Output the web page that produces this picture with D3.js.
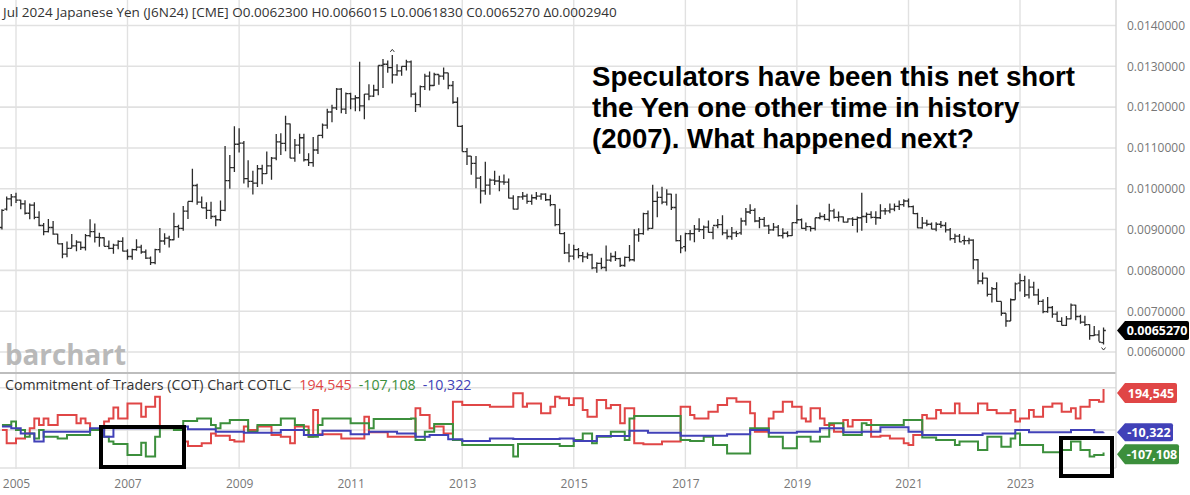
<!DOCTYPE html>
<html><head><meta charset="utf-8">
<script src="https://cdn.jsdelivr.net/npm/d3@7/dist/d3.min.js"></script>
<style>body{margin:0;background:#fff}svg{display:block}</style>
</head><body>
<svg id="c" width="1190" height="495"></svg>
<script>
// ---- DATA ----
// monthly bars from Oct 2004 to Jul 2024; prices in units of 0.00001 USD per JPY
const firstMonth = [2004, 9];   // Oct 2004 (JS month index)
const priceOpen = [
 905,950,975,
 980,972,963,940,960,930,910,895,905,889,865,840,
 854,860,869,856,885,895,881,880,859,854,862,871,
 847,834,851,857,845,830,819,851,872,879,875,907,
 903,945,969,1008,967,953,947,932,924,947,1020,1052,
 1109,1112,1025,1018,1014,1049,1037,1056,1075,1115,1111,1159,
 1075,1107,1125,1071,1064,1095,1131,1156,1188,1198,1244,1195,
 1233,1220,1223,1203,1232,1227,1242,1302,1305,1297,1279,1289,
 1300,1311,1232,1206,1250,1276,1253,1280,1276,1284,1253,1212,
 1153,1091,1080,1062,1026,995,1009,1021,1019,1017,1016,977,
 950,980,982,969,978,982,987,973,961,912,890,843,
 835,851,836,833,838,806,817,807,825,834,829,812,
 832,826,887,890,939,903,969,979,967,987,954,873,
 858,890,890,901,900,906,893,910,912,892,883,892,
 892,921,943,947,921,925,909,899,906,885,891,885,
 917,924,903,907,903,929,932,925,946,930,931,918,
 926,925,929,932,937,930,929,946,946,950,957,961,
 970,956,939,904,916,913,901,913,910,899,878,884,
 873,873,874,826,774,781,741,755,724,695,676,728,
 769,775,740,759,740,724,699,709,693,675,665,681,
 715,687,673,667,640,642,623
];
const priceHigh = [
 950,981,987,
 990,973,972,964,967,945,916,926,921,890,867,871,
 889,874,871,889,925,915,892,881,873,865,874,881,
 852,853,876,863,851,834,853,904,891,885,941,912,
 958,969,1049,1012,981,967,968,935,971,1105,1083,1153,
 1148,1117,1070,1044,1058,1059,1091,1078,1134,1136,1179,1160,
 1122,1135,1135,1087,1127,1131,1160,1196,1206,1247,1247,1236,
 1235,1229,1311,1232,1256,1255,1302,1318,1314,1328,1305,1300,
 1316,1314,1236,1253,1282,1287,1284,1280,1297,1284,1264,1224,
 1156,1100,1080,1080,1031,1066,1025,1044,1032,1035,1025,984,
 982,992,988,986,992,989,989,985,962,951,894,865,
 863,855,845,844,841,820,831,861,843,847,831,834,
 862,901,903,941,947,1010,993,1005,999,988,988,886,
 892,899,911,928,910,922,907,926,935,900,906,897,
 929,953,962,952,931,931,912,916,911,903,896,917,
 961,927,917,908,929,942,938,963,951,944,932,928,
 930,932,990,942,945,945,962,953,964,964,971,974,
 976,959,941,931,924,917,918,921,918,904,890,889,
 885,880,876,828,795,782,759,771,724,695,731,770,
 792,787,778,772,755,729,735,713,699,685,688,719,
 716,691,689,668,664,653,660.15
];
const priceLow = [
 900,947,957,
 965,950,937,925,925,908,886,893,887,865,830,832,
 854,847,850,849,881,868,858,859,852,841,852,846,
 826,826,848,841,828,813,815,843,863,856,874,880,
 897,926,967,961,953,926,926,908,921,945,1000,1041,
 1089,1013,1003,986,1004,1011,1036,1022,1070,1083,1092,1075,
 1066,1086,1067,1056,1054,1085,1124,1147,1163,1193,1185,1183,
 1195,1190,1190,1170,1217,1225,1229,1247,1284,1258,1277,1277,
 1290,1224,1188,1200,1242,1241,1252,1255,1267,1244,1208,1152,
 1091,1058,1034,1001,964,985,985,1009,994,1010,976,949,
 949,973,963,961,973,973,970,957,908,889,840,820,
 826,830,820,828,803,794,803,798,821,823,808,809,
 822,822,870,887,898,902,930,962,959,948,871,842,
 846,873,869,894,877,892,876,903,886,876,875,882,
 887,910,938,918,903,907,889,897,883,878,881,884,
 914,902,897,895,898,925,923,920,927,920,917,917,
 909,893,897,916,927,912,926,936,940,945,948,956,
 954,938,903,902,908,901,896,904,893,873,867,869,
 863,864,803,766,766,736,721,723,689,662,676,728,
 748,735,731,738,716,695,696,684,674,665,664,680,
 678,669,664,630,639,626,618.3
];
const priceClose = [
 947,975,980,
 972,963,940,960,930,910,895,905,889,865,840,854,
 860,869,856,885,895,881,880,859,854,862,871,847,
 834,851,857,845,830,819,851,872,879,875,907,903,
 945,969,1008,967,953,947,932,924,947,1020,1052,1109,
 1112,1025,1018,1014,1049,1037,1056,1075,1115,1111,1159,1075,
 1107,1125,1071,1064,1095,1131,1156,1188,1198,1244,1195,1233,
 1220,1223,1203,1232,1227,1242,1302,1305,1297,1279,1289,1300,
 1311,1232,1206,1250,1276,1253,1280,1276,1284,1253,1212,1153,
 1091,1080,1062,1026,995,1009,1021,1019,1017,1016,977,950,
 980,982,969,978,982,987,973,961,912,890,843,835,
 851,836,833,838,806,817,807,825,834,829,812,832,
 826,887,890,939,903,969,979,967,987,954,873,855,
 890,890,901,900,906,893,910,912,892,883,892,890,
 921,943,947,921,925,909,899,906,885,891,885,917,
 924,903,907,903,929,932,925,946,930,931,918,926,
 925,929,932,937,930,929,946,946,950,957,961,970,
 956,939,904,916,913,901,913,910,899,878,884,870,
 873,874,826,774,781,741,755,724,695,676,728,767,
 775,740,759,740,724,699,709,693,675,665,681,715,
 687,673,667,640,642,624,652.7
];
// COT net positions, thousands of contracts, one value per month (same months)
const cotCommercials = [
 0,-63,-63,-40,-40,-16,8,55,24,55,24,24,
 71,71,71,71,32,55,32,0,0,0,40,55,
 107,55,55,126,126,126,63,110,110,158,16,16,
 16,16,16,-55,-76,-76,-76,-63,-63,-16,-27,-27,
 -27,-47,-55,-55,16,0,0,16,16,16,-24,-24,
 -32,-32,-63,16,16,16,-32,95,-20,-20,-20,-20,
 -20,-40,-40,-40,-40,-40,63,-11,-11,-11,-11,-32,
 -32,-32,-32,-32,-32,103,71,71,8,16,16,-16,
 -16,134,134,118,118,118,118,118,118,110,110,110,
 110,110,174,174,110,126,126,126,79,79,110,158,
 150,150,118,150,150,95,63,63,142,142,103,118,
 118,32,103,103,-63,-63,-68,-68,-68,-68,-55,-55,
 -55,-55,110,110,71,55,55,55,87,87,118,118,
 150,150,134,134,134,79,-8,-8,-8,55,87,87,
 134,134,110,110,55,40,103,103,55,24,24,-8,
 -8,47,16,47,47,47,47,-32,-32,-27,-27,-40,
 -40,-40,-63,-71,-24,-24,71,55,55,95,79,79,
 79,126,79,79,79,79,126,126,95,95,79,79,
 79,95,40,55,55,95,63,63,110,110,126,126,
 87,87,103,55,110,110,142,142,134,194.545
];
const cotLargeSpec = [
 24,24,40,0,0,-32,-16,-40,0,-32,-32,-32,
 -40,-40,-24,-24,-24,-24,-24,0,0,0,-32,-55,
 -66,-66,-66,-118,-118,-118,-60,-126,-126,-32,8,8,
 8,0,0,43,43,43,55,55,55,24,8,32,
 32,47,47,47,47,-8,-8,24,24,24,24,24,
 55,55,55,24,24,0,-32,-32,24,55,55,55,
 55,55,55,32,32,32,32,8,52,52,52,52,
 52,52,52,52,55,-47,-47,-8,-8,28,28,28,
 28,-47,-47,-71,-71,-71,-71,-71,-71,-71,-71,-71,
 -71,-71,-126,-66,-66,-66,-66,-66,-66,-66,-66,-66,
 -76,-76,-76,-47,-47,-16,-16,-63,-32,-32,-32,-8,
 -8,-8,-47,55,66,66,66,66,66,66,66,66,
 66,66,-47,-47,-52,-52,-52,-32,-32,-71,-71,-71,
 -111,-111,-111,-111,-111,8,8,8,8,-32,-32,-32,
 -87,-87,-87,-32,-32,-32,-55,-55,-32,-32,32,32,
 32,-24,-24,-24,-24,32,24,24,24,24,24,24,
 24,24,47,47,47,47,-36,-36,-36,-47,-47,-47,
 -47,-71,-55,-55,-55,-55,-95,-95,-32,-32,-32,-79,
 -79,-40,-16,-71,-71,-71,-71,-71,-106,-106,-106,-106,
 -95,-95,-55,-55,-95,-95,-126,-118,-118,-107.108
];
const cotSmallSpec = [
 16,16,8,8,-16,-16,-16,-55,-55,-8,-8,-8,
 -8,-8,-8,-8,-8,-8,-8,8,8,8,-32,-32,
 8,8,8,8,8,8,8,8,8,8,16,16,
 16,16,16,16,3,3,3,3,3,3,-8,-8,
 -8,-8,-8,-8,-13,-13,-13,-13,-13,-13,-13,-13,
 0,0,0,0,0,-24,-24,-24,-24,-3,-3,-3,
 -3,-3,-3,-20,-20,-20,-20,-8,-8,-8,-8,-8,
 -8,-16,-16,-16,-16,-32,-32,-32,-24,-24,-24,-24,
 -44,-44,-44,-52,-52,-52,-52,-52,-52,-40,-40,-40,
 -40,-40,-43,-43,-43,-43,-43,-43,-43,-43,-43,-43,
 -40,-40,-40,-52,-52,-52,-52,-52,-28,-28,-28,-28,
 -28,-28,-28,-3,-3,-3,-3,-13,-13,-13,-13,-13,
 -13,-13,-27,-27,-27,-27,-27,-27,-27,-27,-27,-27,
 -20,-20,-20,-20,-20,0,0,0,0,-13,-13,-13,
 -13,-13,-13,-8,-8,-8,-8,-8,8,8,8,8,
 8,-11,-11,-11,-11,-8,-8,-8,-8,13,13,13,
 13,13,13,-8,-8,-8,-24,-24,-24,-24,-24,-24,
 -24,-24,-24,-24,-24,-24,-24,-16,-16,-16,-16,-16,
 -16,-16,0,0,0,-11,-11,-11,-11,-11,-11,-11,
 -11,-11,0,0,0,0,0,-11,-11,-10.322
];
const priceTicks = [0.014,0.013,0.012,0.011,0.010,0.009,0.008,0.007,0.006];
const yearTicks = [2005,2007,2009,2011,2013,2015,2017,2019,2021,2023];
const cotGrid = [200, 0];
const lastPrice = 0.0065270;
const headerText = "Jul 2024 Japanese Yen (J6N24) [CME] O0.0062300 H0.0066015 L0.0061830 C0.0065270 \u03940.0002940";
const cotTitle = "Commitment of Traders (COT) Chart COTLC";
const noteLines = ["Speculators have been this net short","the Yen one other time in history","(2007). What happened next?"];

// ---- CHART ----
const svg = d3.select("#c");
const plotR = 1116;
const months = d3.range(priceClose.length).map(i => new Date(firstMonth[0], firstMonth[1] + i, 1));
const bars = months.map((d, i) => ({d, o: priceOpen[i]/1e5, h: priceHigh[i]/1e5, l: priceLow[i]/1e5, c: priceClose[i]/1e5}));

const x = d3.scaleTime().domain([new Date(2005,0,1), new Date(2023,0,1)]).range([16, 1020]);
const yP = d3.scaleLinear().domain([0.006, 0.014]).range([352, 25.5]);
const yC = d3.scaleLinear().domain([-200, 200]).range([472.2, 387.8]);
const font = "'Open Sans', sans-serif";
const gridCol = "#e1e1e1";
const loc = d3.formatLocale({decimal: ".", thousands: ",", grouping: [3], currency: ["$", ""], minus: "-"});
const fmt = loc.format(",.0f");

// grid
const g = svg.append("g");
g.selectAll(".hg").data(priceTicks).join("line")
  .attr("x1", 0).attr("x2", plotR).attr("y1", d => yP(d)).attr("y2", d => yP(d))
  .attr("stroke", gridCol).attr("stroke-width", 1.6);
g.selectAll(".cg").data(cotGrid).join("line")
  .attr("x1", 0).attr("x2", plotR).attr("y1", d => yC(d)).attr("y2", d => yC(d))
  .attr("stroke", gridCol).attr("stroke-width", 1.6);
g.selectAll(".vg").data(yearTicks).join("line")
  .attr("x1", d => x(new Date(d,0,1))).attr("x2", d => x(new Date(d,0,1)))
  .attr("y1", 0).attr("y2", 469).attr("stroke", gridCol).attr("stroke-width", 1.4);
// panel borders
g.append("line").attr("x1", 0).attr("x2", plotR).attr("y1", 468).attr("y2", 468).attr("stroke", gridCol).attr("stroke-width", 1.6);
g.append("line").attr("x1", 0).attr("x2", plotR).attr("y1", 373).attr("y2", 373).attr("stroke", "#bdbdbd").attr("stroke-width", 2);
g.append("line").attr("x1", plotR).attr("x2", plotR).attr("y1", 0).attr("y2", 468).attr("stroke", "#d6d6d6").attr("stroke-width", 1.4);

// watermark
svg.append("text").attr("x", 5).attr("y", 365).attr("font-family", "'Open Sans', sans-serif")
  .attr("font-weight", 700).attr("font-size", 29).attr("fill", "#b9b9b9")
  .attr("textLength", 121).attr("lengthAdjust", "spacingAndGlyphs").text("barchart");

// header
svg.append("text").attr("x", 3).attr("y", 17).attr("font-family", font).attr("font-size", 13.5)
  .attr("fill", "#333").text(headerText);

// price bars
const pb = svg.append("g").attr("stroke", "#2b2b2b").attr("stroke-width", 1.3).attr("fill", "none");
pb.selectAll(".b").data(bars).join("path")
  .attr("d", b => {
    const xx = x(b.d);
    return `M${xx},${yP(b.h)}V${yP(b.l)}M${xx-2.3},${yP(b.o)}H${xx}M${xx},${yP(b.c)}H${xx+2.3}`;
  });
// high / low markers
const iMax = d3.maxIndex(bars, b => b.h), iMin = d3.minIndex(bars, b => b.l);
svg.append("path").attr("fill", "none").attr("stroke", "#333").attr("stroke-width", 1)
  .attr("d", `M${x(bars[iMax].d)-2},${yP(bars[iMax].h)-3}L${x(bars[iMax].d)},${yP(bars[iMax].h)-5.5}L${x(bars[iMax].d)+2},${yP(bars[iMax].h)-3}` +
             `M${x(bars[iMin].d)-2},${yP(bars[iMin].l)+3}L${x(bars[iMin].d)},${yP(bars[iMin].l)+5.5}L${x(bars[iMin].d)+2},${yP(bars[iMin].l)+3}`);

// COT lines
svg.append("clipPath").attr("id", "cclip").append("rect").attr("x", 0).attr("y", 374).attr("width", plotR).attr("height", 94);
const line = d3.line().x((d, i) => x(months[i])).y(d => yC(d)).curve(d3.curveStepAfter);
const cotG = svg.append("g").attr("clip-path", "url(#cclip)").attr("fill", "none").attr("stroke-width", 2);
const cRed = "#e04646", cGreen = "#3c8f3c", cBlue = "#4141b8";
cotG.append("path").attr("d", line(cotCommercials)).attr("stroke", cRed);
cotG.append("path").attr("d", line(cotLargeSpec)).attr("stroke", cGreen);
cotG.append("path").attr("d", line(cotSmallSpec)).attr("stroke", cBlue);

// COT title
const lastR = cotCommercials[cotCommercials.length-1],
      lastG = cotLargeSpec[cotLargeSpec.length-1],
      lastB = cotSmallSpec[cotSmallSpec.length-1];
const ct = svg.append("text").attr("x", 5).attr("y", 390).attr("font-family", font).attr("font-size", 14.2);
ct.append("tspan").attr("fill", "#333").text(cotTitle);
ct.append("tspan").attr("fill", cRed).attr("dx", 8).text(fmt(lastR * 1000));
ct.append("tspan").attr("fill", cGreen).attr("dx", 7).text(fmt(lastG * 1000));
ct.append("tspan").attr("fill", cBlue).attr("dx", 7).text(fmt(lastB * 1000));

// annotation
svg.append("g").selectAll("text").data(noteLines).join("text")
  .attr("x", 592).attr("y", (d, i) => 86 + i * 31)
  .attr("font-family", "'Liberation Sans', Arial, sans-serif").attr("font-weight", 700)
  .attr("font-size", 27.6).attr("fill", "#000").text(d => d);

// highlight boxes
svg.append("rect").attr("x", 101).attr("y", 427).attr("width", 83).attr("height", 40)
  .attr("fill", "none").attr("stroke", "#000").attr("stroke-width", 4);
svg.append("rect").attr("x", 1061).attr("y", 438).attr("width", 51).attr("height", 38)
  .attr("fill", "none").attr("stroke", "#000").attr("stroke-width", 4);

// right axis
const ax = svg.append("g").attr("transform", `translate(${plotR},0)`)
  .call(d3.axisRight(yP).tickValues(priceTicks).tickFormat(d3.format(".7f")).tickSize(0).tickPadding(11));
ax.select(".domain").remove();
ax.selectAll("text").attr("font-family", font).attr("font-size", 12).attr("fill", "#777");

// x axis
const xa = svg.append("g").attr("transform", "translate(0,470)")
  .call(d3.axisBottom(x).tickValues(yearTicks.map(y => new Date(y,0,1))).tickFormat(d3.timeFormat("%Y")).tickSize(0).tickPadding(9));
xa.select(".domain").remove();
xa.selectAll("text").attr("font-family", font).attr("font-size", 12).attr("fill", "#777");

// tags
function tag(yc, w, h, color, label) {
  const x0 = plotR + 1, t = 8;
  svg.append("path").attr("fill", color)
    .attr("d", `M${x0},${yc}L${x0+t},${yc-h/2}H${x0+w-2}Q${x0+w},${yc-h/2} ${x0+w},${yc-h/2+2}V${yc+h/2-2}Q${x0+w},${yc+h/2} ${x0+w-2},${yc+h/2}H${x0+t}Z`);
  svg.append("text").attr("x", x0 + t + (w - t) / 2).attr("y", yc + 4.5).attr("text-anchor", "middle")
    .attr("font-family", font).attr("font-weight", 700).attr("font-size", 12.5).attr("fill", "#fff").text(label);
}
tag(yP(lastPrice), 72, 19, "#000", d3.format(".7f")(lastPrice));
tag(Math.max(yC(lastR), 393), 60, 20, cRed, fmt(lastR * 1000));
tag(yC(lastB), 56, 18, cBlue, fmt(lastB * 1000));
tag(Math.max(yC(lastG), yC(lastB) + 22), 62, 20, cGreen, fmt(lastG * 1000));
</script>
</body></html>
